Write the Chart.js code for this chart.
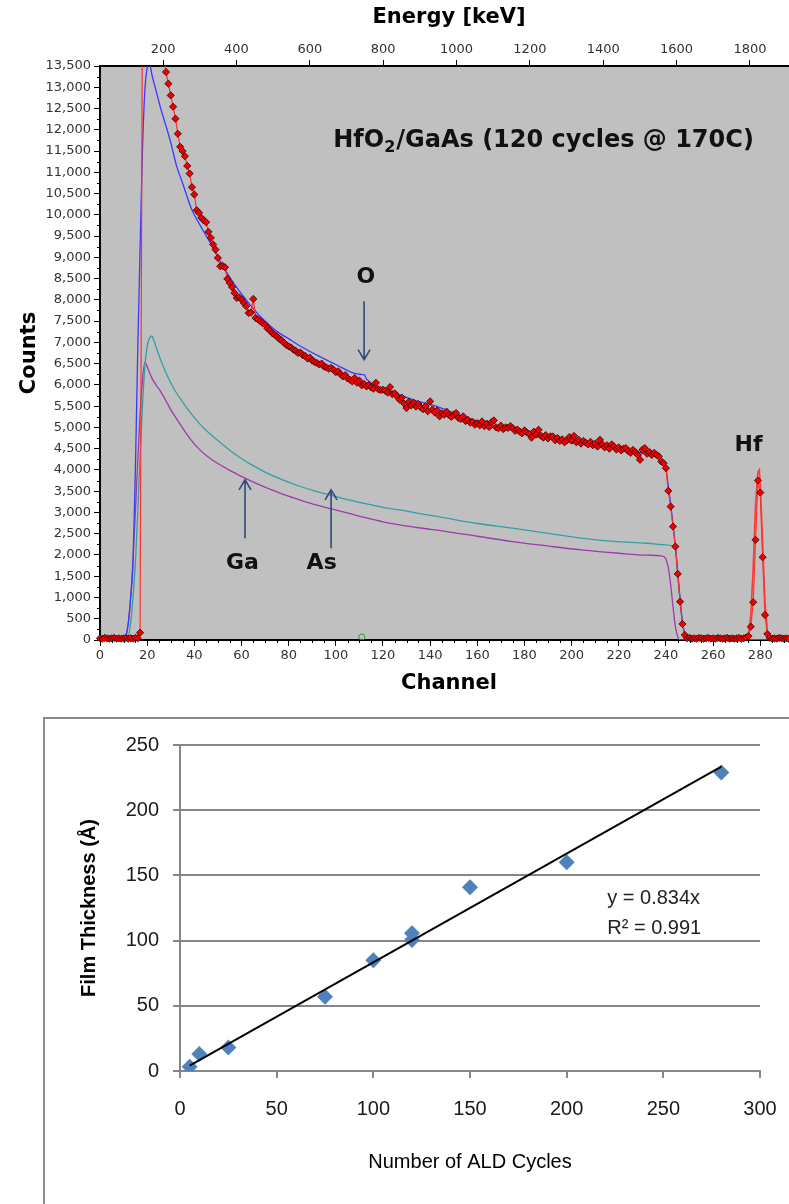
<!DOCTYPE html>
<html>
<head>
<meta charset="utf-8">
<script src="https://cdn.jsdelivr.net/npm/chart.js@4.4.1/dist/chart.umd.min.js"></script>
<style>
  html, body { margin: 0; padding: 0; background: #fff; }
  body { width: 789px; height: 1204px; position: relative; overflow: hidden; }
  #rbs { position: absolute; left: 0; top: 0; }
  #frame { position: absolute; left: 43px; top: 717px; width: 800px; height: 600px;
           border-left: 2px solid #8c8c8c; border-top: 2px solid #8c8c8c; }
  #ald { position: absolute; left: 45px; top: 719px; }
</style>
</head>
<body>
<canvas id="rbs" width="803" height="700"></canvas>
<div id="frame"></div>
<canvas id="ald" width="744" height="485"></canvas>
<script>
// --- RBS spectrum: measured counts, one value per channel (0..292)
const measuredCounts = [
    40, 30, 50, 40, 30, 40, 50, 30, 40, 30, 40, 50, 30, 40, 30, 50, 40,
    172,
    15200, 17000, 17400, 16900, 16300, 15700, 15100, 14500, 14100, 13700,
    13358, 13084, 12809, 12542, 12260, 11906, 11600, 11500, 11380, 11150, 10972, 10650,
    10478, 10108, 10045, 9929, 9870, 9826, 9600, 9458, 9300, 9183,
    8987, 8790, 8800, 8766, 8493, 8399, 8300, 8163, 8045, 8060,
    8007, 7928, 7850, 7692, 7700, 8022, 7574, 7540, 7496, 7450,
    7417, 7330, 7280, 7221, 7180, 7142, 7080, 7050, 6990, 6940,
    6906, 6880, 6830, 6800, 6750, 6760, 6700, 6680, 6620, 6640,
    6570, 6540, 6515, 6480, 6500, 6430, 6410, 6380, 6400, 6357,
    6300, 6320, 6250, 6200, 6230, 6150, 6122, 6080, 6160, 6050,
    6100, 5990, 6020, 5965, 6000, 5940, 5910, 6050, 5900, 5880,
    5886, 5860, 5820, 5950, 5780, 5800, 5729, 5651, 5700, 5560,
    5455, 5600, 5520, 5580, 5490, 5550, 5470, 5430, 5500, 5380,
    5612, 5420, 5350, 5400, 5259, 5330, 5300, 5370, 5290, 5250,
    5300, 5337, 5220, 5200, 5260, 5150, 5180, 5110, 5130, 5062,
    5100, 5050, 5140, 5030, 5090, 5010, 5120, 5164, 5000, 4980,
    5040, 4960, 5000, 4990, 5030, 4985, 4920, 4950, 4900, 4860,
    4930, 4880, 4850, 4760, 4900, 4830, 4945, 4800, 4760, 4820,
    4740, 4790, 4787, 4700, 4750, 4680, 4720, 4650, 4700, 4773,
    4690, 4800, 4650, 4709, 4620, 4680, 4640, 4600, 4660, 4580,
    4620, 4550, 4709, 4600, 4530, 4580, 4500, 4600, 4552, 4480,
    4530, 4460, 4500, 4513, 4440, 4400, 4470, 4420, 4356, 4238,
    4474, 4513, 4380, 4420, 4350, 4400, 4356, 4316, 4200, 4160,
    4042, 3508, 3139, 2668, 2197, 1554, 902, 377, 118, 40,
    50, 30, 40, 30, 50, 40, 30, 40, 50, 30,
    40, 30, 50, 40, 30, 40, 50, 30, 40, 30,
    40, 50, 30, 40, 60, 90,
    313, 888, 2355, 3751, 3468, 1947, 589, 141,
    50, 30, 40, 30, 50, 40, 30, 40, 30
];

// simulated total (blue)
const totalX = [0, 10, 11, 12, 13, 14, 15, 16, 17, 18, 19, 20, 21, 22, 24, 26, 28, 30, 32.5, 35,
    38.9, 42, 46.7, 50, 56.6, 62, 67.9, 74, 80.6, 86, 93, 100, 107, 109, 110.5, 112, 113, 116, 122, 128.7,
    135, 142.8, 150, 160, 170, 180, 190, 200, 210, 220, 230, 236, 238, 239, 240, 241, 242, 243, 244, 245,
    246, 247, 248, 249, 250, 296];
const totalY = [0, 0, 100, 400, 1000, 1800, 4000, 6800, 9200, 11500, 12900, 13450, 13550, 13300, 12870, 12450, 12087, 11700, 11145, 10750,
    10125, 9800, 9347, 9000, 8399, 8000, 7613, 7300, 7064, 6880, 6670, 6480, 6290, 6260, 6250, 6240, 6140, 6004, 5870, 5729,
    5610, 5494, 5340, 5150, 5000, 4860, 4740, 4640, 4560, 4480, 4400, 4340, 4270, 4200, 4050, 3620, 3200, 2720, 2220, 1600,
    950, 420, 130, 30, 0, 0];

// As contribution (teal)
const asX = [0, 11, 12, 13, 14, 15, 16, 17, 18, 19, 20, 21, 22, 23, 24, 26, 28, 30, 32, 35,
    38, 42, 46, 50, 56, 60, 64, 70, 77, 85, 92, 99, 106, 113, 120, 127, 135, 147, 160, 175,
    190, 204, 218, 232, 240, 243, 244, 245, 246, 247, 248, 249, 250, 296];
const asY = [0, 0, 80, 400, 1000, 1800, 3000, 4300, 5500, 6400, 6900, 7100, 7150, 7020, 6850, 6550, 6280, 6050, 5850, 5600,
    5370, 5101, 4880, 4690, 4420, 4270, 4130, 3950, 3780, 3610, 3490, 3390, 3290, 3200, 3120, 3060, 2980, 2865, 2740, 2629,
    2510, 2394, 2320, 2276, 2235, 2213, 2150, 1550, 920, 400, 120, 25, 0, 0];

// Ga contribution (purple)
const gaX = [0, 10, 11, 12, 13, 14, 15, 16, 17, 18, 19, 20, 21, 22, 24, 26, 28, 30, 32, 35,
    38, 42, 46, 50, 55, 61, 66, 71, 78, 85, 92, 99, 106, 113, 120, 127, 135, 147, 160, 175,
    190, 204, 220, 232, 238, 240, 241, 242, 243, 244, 245, 246, 296];
const gaY = [0, 0, 80, 400, 1000, 1900, 3000, 4200, 5300, 6100, 6530, 6430, 6290, 6160, 5980, 5820, 5620, 5420, 5240, 4990,
    4750, 4490, 4300, 4150, 3990, 3820, 3690, 3570, 3420, 3290, 3170, 3070, 2970, 2870, 2780, 2708, 2640, 2551, 2440, 2315,
    2210, 2119, 2040, 1995, 1978, 1900, 1700, 1300, 785, 314, 80, 0, 0];

// Hf peak fit (red)
const hfFitX = [274, 275, 276, 277, 278, 279, 279.6, 280, 281, 282, 283, 284, 285];
const hfFitY = [40, 150, 600, 1700, 3200, 3950, 4000, 3650, 2300, 900, 220, 40, 30];

const channelTicks = [0, 20, 40, 60, 80, 100, 120, 140, 160, 180, 200, 220, 240, 260, 280];
const energyTicks = [200, 400, 600, 800, 1000, 1200, 1400, 1600, 1800];

// --- thickness vs ALD cycles
const aldCycles = [5, 10, 25, 75, 100, 120, 120, 150, 200, 280];
const filmThickness = [3.3, 13, 18, 57, 85, 100.5, 105.6, 141, 160, 229];
const trendCycles = [5, 280];
const trendThickness = [4.2, 233.5];

const pairs = (xs, ys) => xs.map((x, i) => ({ x, y: ys[i] }));

const arrowColor = '#2f4a7c';
const labelFont = 'bold 22px "DejaVu Sans", sans-serif';
const headFont = 'bold 24px "DejaVu Sans", sans-serif';

// 라벨과 화살표 (데이터 좌표)
const rbsLabels = [
    { text: 'O', x: 112.7, y: 8524 },
    { text: 'Ga', x: 60.4, y: 1806 },
    { text: 'As', x: 94, y: 1806 },
    { text: 'Hf', x: 275, y: 4591 },
];
const rbsArrows = [
    { x: 112, from: 7965, to: 6593 },
    { x: 61.5, from: 2394, to: 3767 },
    { x: 98, from: 2159, to: 3532 },
];

const rbsOverlay = {
    id: 'rbsOverlay',
    beforeDraw(chart) {
        const { ctx, chartArea: a } = chart;
        ctx.save();
        ctx.fillStyle = '#c0c0c0';
        ctx.fillRect(a.left, a.top, a.right - a.left, a.bottom - a.top);
        ctx.restore();
    },
    afterDraw(chart) {
        const { ctx, chartArea: a, scales: { x, y } } = chart;
        ctx.save();
        // minor ticks
        ctx.strokeStyle = '#000';
        ctx.lineWidth = 1;
        ctx.beginPath();
        for (let c = 5; c < 296; c += 5) {
            if (c % 20 === 0) continue;
            const px = Math.round(x.getPixelForValue(c)) + 0.5;
            ctx.moveTo(px, a.bottom);
            ctx.lineTo(px, a.bottom + 3);
        }
        for (let v = 250; v < 13500; v += 500) {
            const py = Math.round(y.getPixelForValue(v)) + 0.5;
            ctx.moveTo(a.left, py);
            ctx.lineTo(a.left - 3, py);
        }
        ctx.stroke();

        // arrows
        ctx.strokeStyle = arrowColor;
        ctx.lineWidth = 1.6;
        rbsArrows.forEach(ar => {
            const px = x.getPixelForValue(ar.x);
            const y1 = y.getPixelForValue(ar.from);
            const y2 = y.getPixelForValue(ar.to);
            const dir = y2 > y1 ? 1 : -1;
            ctx.beginPath();
            ctx.moveTo(px, y1);
            ctx.lineTo(px, y2);
            ctx.moveTo(px - 6, y2 - dir * 10);
            ctx.lineTo(px, y2);
            ctx.lineTo(px + 6, y2 - dir * 10);
            ctx.stroke();
        });

        // labels
        ctx.fillStyle = '#111';
        ctx.font = labelFont;
        ctx.textAlign = 'center';
        ctx.textBaseline = 'middle';
        rbsLabels.forEach(l => {
            ctx.fillText(l.text, x.getPixelForValue(l.x), y.getPixelForValue(l.y));
        });

        // title with subscript
        let tx = x.getPixelForValue(98.9);
        const ty = y.getPixelForValue(11749);
        ctx.textAlign = 'left';
        ctx.font = headFont;
        ctx.fillText('HfO', tx, ty);
        tx += ctx.measureText('HfO').width;
        ctx.font = 'bold 16px "DejaVu Sans", sans-serif';
        ctx.fillText('2', tx, ty + 7);
        tx += ctx.measureText('2').width + 1;
        ctx.font = headFont;
        ctx.fillText('/GaAs (120 cycles @ 170C)', tx, ty);
        ctx.restore();
    }
};

const tickFont = { family: 'DejaVu Sans', size: 13 };
const titleFont = { family: 'DejaVu Sans', size: 21, weight: 'bold' };
const noSidePad = s => { s.paddingLeft = 0; s.paddingRight = 0; };

new Chart(document.getElementById('rbs'), {
    type: 'line',
    data: {
        datasets: [
            {
                data: measuredCounts.map((v, i) => ({ x: i, y: v })),
                borderColor: '#ff3030',
                borderWidth: 1.2,
                pointStyle: 'rectRot',
                pointRadius: 3.6,
                pointBackgroundColor: '#ee0000',
                pointBorderColor: '#3a0000',
                pointBorderWidth: 0.8,
                clip: { left: 5, top: 0, right: 5, bottom: 5 },
            },
            {
                data: pairs(hfFitX, hfFitY),
                borderColor: '#ff3a3a',
                borderWidth: 1.6,
                pointRadius: 0,
                clip: 0,
            },
            {
                data: [{ x: 111, y: 70 }],
                showLine: false,
                pointRadius: 3,
                pointBackgroundColor: 'rgba(0,0,0,0)',
                pointBorderColor: '#2ca02c',
                pointBorderWidth: 1,
            },
            {
                data: pairs(totalX, totalY),
                borderColor: '#3a3aff',
                borderWidth: 1.3,
                pointRadius: 0,
                cubicInterpolationMode: 'monotone',
                clip: 0,
            },
            {
                data: pairs(asX, asY),
                borderColor: '#33a0a0',
                borderWidth: 1.3,
                pointRadius: 0,
                cubicInterpolationMode: 'monotone',
                clip: 0,
            },
            {
                data: pairs(gaX, gaY),
                borderColor: '#a03aa8',
                borderWidth: 1.3,
                pointRadius: 0,
                cubicInterpolationMode: 'monotone',
                clip: 0,
            },
        ],
    },
    options: {
        responsive: false,
        animation: false,
        devicePixelRatio: 1,
        layout: { padding: 0 },
        plugins: { legend: { display: false }, tooltip: { enabled: false } },
        scales: {
            x: {
                type: 'linear',
                position: 'bottom',
                min: 0,
                max: 296,
                afterBuildTicks: s => { s.ticks = channelTicks.map(v => ({ value: v })); },
                afterFit: s => { s.height = 60; noSidePad(s); },
                ticks: { font: tickFont, color: '#333', padding: 2, maxRotation: 0, autoSkip: false },
                grid: { drawOnChartArea: false, tickLength: 6, color: '#000' },
                border: { color: '#000', width: 2 },
                title: { display: true, text: 'Channel', font: titleFont, color: '#000', padding: { top: 0, bottom: 4 } },
            },
            x2: {
                type: 'linear',
                position: 'top',
                min: 28,
                max: 1931,
                afterBuildTicks: s => { s.ticks = energyTicks.map(v => ({ value: v })); },
                afterFit: s => { s.height = 66; noSidePad(s); },
                ticks: { font: tickFont, color: '#333', padding: 3, maxRotation: 0, autoSkip: false, callback: v => String(v) },
                grid: { drawOnChartArea: false, tickLength: 6, color: '#000' },
                border: { color: '#000', width: 2 },
                title: { display: true, text: 'Energy [keV]', font: titleFont, color: '#000', padding: { top: 5, bottom: 0 } },
            },
            y: {
                min: 0,
                max: 13500,
                afterFit: s => { s.width = 100; },
                ticks: {
                    stepSize: 500,
                    font: tickFont,
                    color: '#333',
                    padding: 3,
                    autoSkip: false,
                    callback: v => v.toLocaleString('en-US'),
                },
                grid: { drawOnChartArea: false, tickLength: 6, color: '#000' },
                border: { color: '#000', width: 2 },
                title: { display: true, text: 'Counts', font: titleFont, color: '#000', padding: { top: 17, bottom: 0 } },
            },
        },
    },
    plugins: [rbsOverlay],
});

// --- second chart
const aldNotes = [
    { text: 'y = 0.834x', x: 221, y: 132 },
    { text: 'R² = 0.991', x: 221, y: 109 },
];
const aldOverlay = {
    id: 'aldOverlay',
    afterDraw(chart) {
        const { ctx, scales: { x, y } } = chart;
        ctx.save();
        ctx.fillStyle = '#222';
        ctx.font = '20px "Liberation Sans", sans-serif';
        ctx.textAlign = 'left';
        ctx.textBaseline = 'middle';
        aldNotes.forEach(n => ctx.fillText(n.text, x.getPixelForValue(n.x), y.getPixelForValue(n.y)));
        ctx.restore();
    }
};

const aldTickFont = { family: 'Liberation Sans', size: 20 };
const aldTitleFont = { family: 'Liberation Sans', size: 20, weight: 'bold' };

new Chart(document.getElementById('ald'), {
    type: 'scatter',
    data: {
        datasets: [
            {
                data: pairs(trendCycles, trendThickness),
                showLine: true,
                borderColor: '#000',
                borderWidth: 2,
                pointRadius: 0,
            },
            {
                data: pairs(aldCycles, filmThickness),
                pointStyle: 'rectRot',
                pointRadius: 8,
                backgroundColor: '#4f81bd',
                borderColor: '#4f81bd',
                borderWidth: 0,
            },
        ],
    },
    options: {
        responsive: false,
        animation: false,
        devicePixelRatio: 1,
        layout: { padding: { top: 25, right: 29, left: 0, bottom: 0 } },
        plugins: { legend: { display: false }, tooltip: { enabled: false } },
        scales: {
            x: {
                type: 'linear',
                min: 0,
                max: 300,
                afterFit: s => { s.height = 133; noSidePad(s); },
                ticks: { stepSize: 50, font: aldTickFont, color: '#1a1a1a', padding: 19, maxRotation: 0 },
                grid: { drawOnChartArea: false, tickLength: 7, color: '#868686', lineWidth: 2 },
                border: { color: '#868686', width: 2 },
                title: { display: true, text: 'Number of ALD Cycles', font: { family: 'Liberation Sans', size: 20 }, color: '#000', padding: { top: 0, bottom: 30 } },
            },
            y: {
                min: 0,
                max: 250,
                afterFit: s => { s.width = 135; },
                ticks: { stepSize: 50, font: aldTickFont, color: '#1a1a1a', padding: 14 },
                grid: { color: '#868686', lineWidth: 2, tickLength: 7 },
                border: { color: '#868686', width: 2 },
                title: { display: true, text: 'Film Thickness (Å)', font: aldTitleFont, color: '#000', padding: { top: 32, bottom: 0 } },
            },
        },
    },
    plugins: [aldOverlay],
});
</script>
</body>
</html>
